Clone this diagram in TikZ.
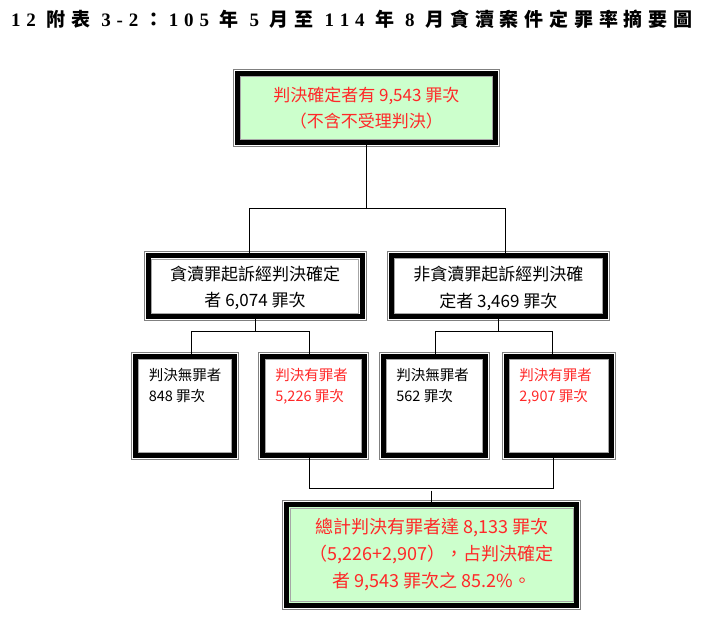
\documentclass[tikz,border=0pt]{standalone}
\usepackage{fontspec}
\setmainfont{Liberation Serif}
\newfontfamily\cjkfont{Noto Sans CJK TC}
\newcommand\zh[1]{{\cjkfont #1}}
\definecolor{boxgreen}{RGB}{204,255,204}
\definecolor{txtred}{RGB}{255,40,40}
\definecolor{framegray}{RGB}{128,128,128}
\newcommand\tg{\hspace{5.8pt}}
\newcommand\tw{\hspace{10.8pt}}
\begin{document}
\begin{tikzpicture}[x=1pt,y=-1pt,
  frame/.style={draw=black, line width=5pt, inner sep=0pt, outer sep=0pt, fill=white},
  gbox/.style={frame, fill=boxgreen},
  conn/.style={draw=black, line width=1pt},
  bigtxt/.style={font=\cjkfont\fontsize{17}{26.7}\selectfont, align=center, inner sep=0pt},
  bottxt/.style={font=\cjkfont\fontsize{18}{27.2}\selectfont, align=center, inner sep=0pt},
  smalltxt/.style={font=\cjkfont\fontsize{14.5}{21.7}\selectfont, align=left, inner sep=0pt, anchor=north west},
]
\useasboundingbox (0,0) rectangle (704,622);
\fill[white] (0,0) rectangle (704,622);

% title
\node[anchor=west, inner sep=0pt, font=\bfseries\fontsize{19}{19}\selectfont] (title) at (11,19)
 {1\tg2\tw\zh{附}\tg\zh{表}\tw3\tg-\tg2\tg\zh{：}\tg1\tg0\tg5\tw\zh{年}\tw5\tw\zh{月}\tg\zh{至}\tw1\tg1\tg4\tw\zh{年}\tw8\tw\zh{月}\tg\zh{貪}\tg\zh{瀆}\tg\zh{案}\tg\zh{件}\tg\zh{定}\tg\zh{罪}\tg\zh{率}\tg\zh{摘}\tg\zh{要}\tg\zh{圖}};

% boxes
\node[gbox, minimum width=258pt, minimum height=69.4pt] (top) at (366.3,108) {};
\node[frame, minimum width=214pt, minimum height=61pt] (ml) at (255,286.2) {};
\node[frame, minimum width=214pt, minimum height=61.3pt] (mr) at (498.3,286.3) {};
\node[frame, minimum width=99.3pt, minimum height=99.3pt] (b1) at (185.3,406.3) {};
\node[frame, minimum width=102pt, minimum height=99.3pt] (b2) at (313.3,406.3) {};
\node[frame, minimum width=102pt, minimum height=99.3pt] (b3) at (434.3,406.3) {};
\node[frame, minimum width=105.4pt, minimum height=99.3pt] (b4) at (559,406.3) {};
\node[gbox, minimum width=290pt, minimum height=100.3pt] (bot) at (431.7,554.85) {};

\foreach \n in {top,ml,mr,b1,b2,b3,b4,bot}{
  \draw[framegray, line width=1pt] ([shift={(-4,-4)}]\n.north west) rectangle ([shift={(4,4)}]\n.south east);
  \draw[framegray!70, line width=0.8pt] ([shift={(3.2,3.2)}]\n.north west) rectangle ([shift={(-3.2,-3.2)}]\n.south east);
}

% texts
\node[bigtxt, text=txtred] (topt) at (top.center) {判決確定者有 9,543 罪次\\（不含不受理判決）};
\node[bigtxt, text=black, yshift=-1.8pt] (mlt) at (ml.center) {貪瀆罪起訴經判決確定\\者 6,074 罪次};
\node[bigtxt, text=black, yshift=-1.8pt] (mrt) at (mr.center) {非貪瀆罪起訴經判決確\\定者 3,469 罪次};
\node[smalltxt, text=black] (b1t) at ([shift={(12.9,11)}]b1.north west) {判決無罪者\\848 罪次};
\node[smalltxt, text=txtred] (b2t) at ([shift={(12.9,11)}]b2.north west) {判決有罪者\\5,226 罪次};
\node[smalltxt, text=black] (b3t) at ([shift={(12.9,11)}]b3.north west) {判決無罪者\\562 罪次};
\node[smalltxt, text=txtred] (b4t) at ([shift={(12.9,11)}]b4.north west) {判決有罪者\\2,907 罪次};
\node[bottxt, text=txtred] (bott) at (bot.center) {總計判決有罪者達 8,133 罪次\\（5,226+2,907），占判決確定\\者 9,543 罪次之 85.2\%。};

% connectors
\coordinate (j1) at (366.3,208);
\coordinate (j1l) at (249.3,208);
\coordinate (j1r) at (505.3,208);
\draw[conn] (top.south) -- (j1);
\draw[conn] (ml.north -| j1l) -- (j1l) -- (j1r) -- (mr.north -| j1r);

\coordinate (j2) at (255,331);
\coordinate (j2l) at (191.7,331);
\coordinate (j2r) at (309.3,331);
\draw[conn] (ml.south) -- (j2);
\draw[conn] (b1.north -| j2l) -- (j2l) -- (j2r) -- (b2.north -| j2r);

\coordinate (j3) at (498.3,331);
\coordinate (j3l) at (435,331);
\coordinate (j3r) at (552.7,331);
\draw[conn] (mr.south) -- (j3);
\draw[conn] (b3.north -| j3l) -- (j3l) -- (j3r) -- (b4.north -| j3r);

\coordinate (j4l) at (309.3,488.3);
\coordinate (j4r) at (553.3,488.3);
\coordinate (j4) at (431.7,490.7);
\draw[conn] (b2.south -| j4l) -- (j4l) -- (j4r) -- (b4.south -| j4r);
\draw[conn] (j4) -- (bot.north -| j4);
\end{tikzpicture}
\end{document}
